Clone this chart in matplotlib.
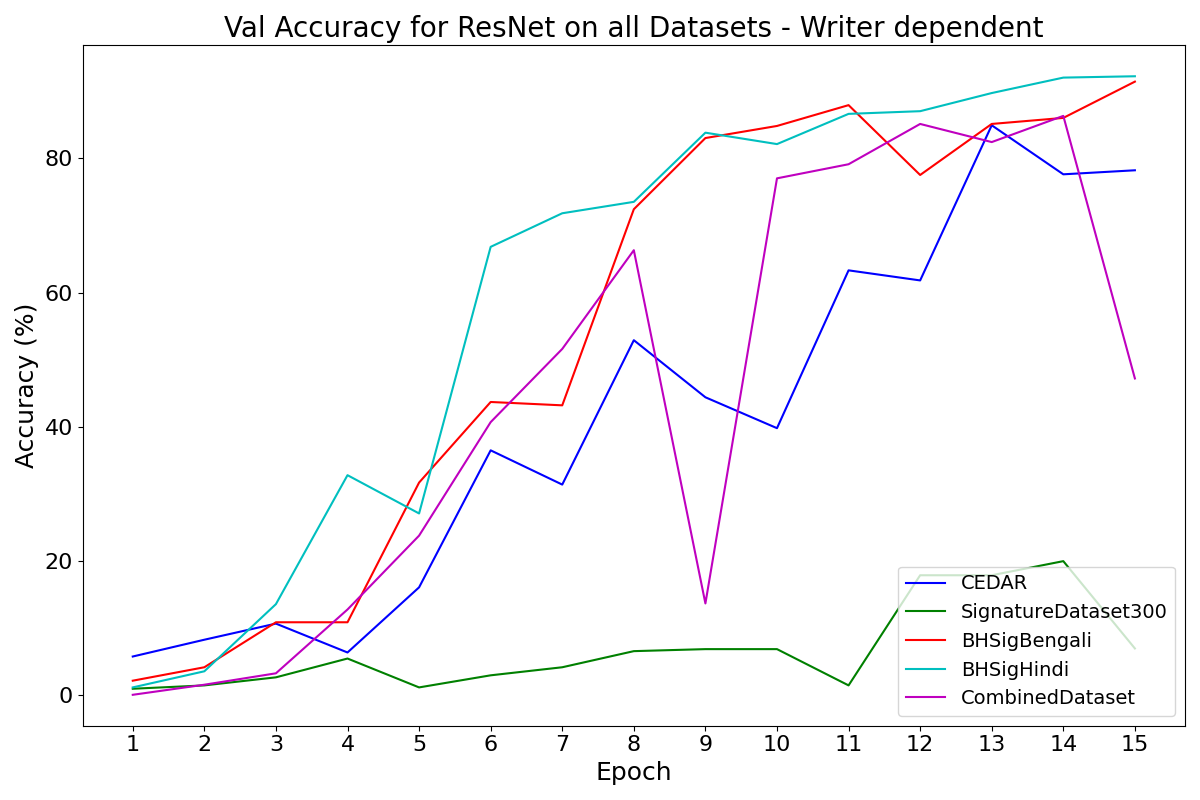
import matplotlib
matplotlib.use('Agg')
import matplotlib.pyplot as plt

epochs = list(range(1, 16))
cedar = [5.8, 8.3, 10.7, 6.4, 16.1, 36.5, 31.4, 52.9, 44.4, 39.8, 63.3, 61.8, 84.9, 77.6, 78.2]
sig300 = [1.0, 1.5, 2.7, 5.5, 1.2, 3.0, 4.2, 6.6, 6.9, 6.9, 1.5, 17.9, 17.9, 20.0, 7.0]
bengali = [2.2, 4.2, 10.9, 10.9, 31.7, 43.7, 43.2, 72.4, 83.0, 84.8, 87.9, 77.5, 85.1, 86.0, 91.4]
hindi = [1.2, 3.6, 13.6, 32.8, 27.1, 66.8, 71.8, 73.5, 83.8, 82.1, 86.6, 87.0, 89.7, 92.0, 92.2]
combined = [0.1, 1.6, 3.3, 12.8, 23.8, 40.7, 51.6, 66.3, 13.7, 77.0, 79.1, 85.1, 82.4, 86.3, 47.2]

plt.figure(figsize=(12, 8), dpi=100)
plt.plot(epochs, cedar, color='b', label='CEDAR')
plt.plot(epochs, sig300, color='g', label='SignatureDataset300')
plt.plot(epochs, bengali, color='r', label='BHSigBengali')
plt.plot(epochs, hindi, color='c', label='BHSigHindi')
plt.plot(epochs, combined, color='m', label='CombinedDataset')

plt.title('Val Accuracy for ResNet on all Datasets - Writer dependent', fontsize=20)
plt.xlabel('Epoch', fontsize=18)
plt.ylabel('Accuracy (%)', fontsize=18)
plt.xticks(epochs, fontsize=16)
plt.yticks(fontsize=16)
plt.legend(loc='lower right', fontsize=14)
plt.tight_layout()
plt.savefig('out.png')
